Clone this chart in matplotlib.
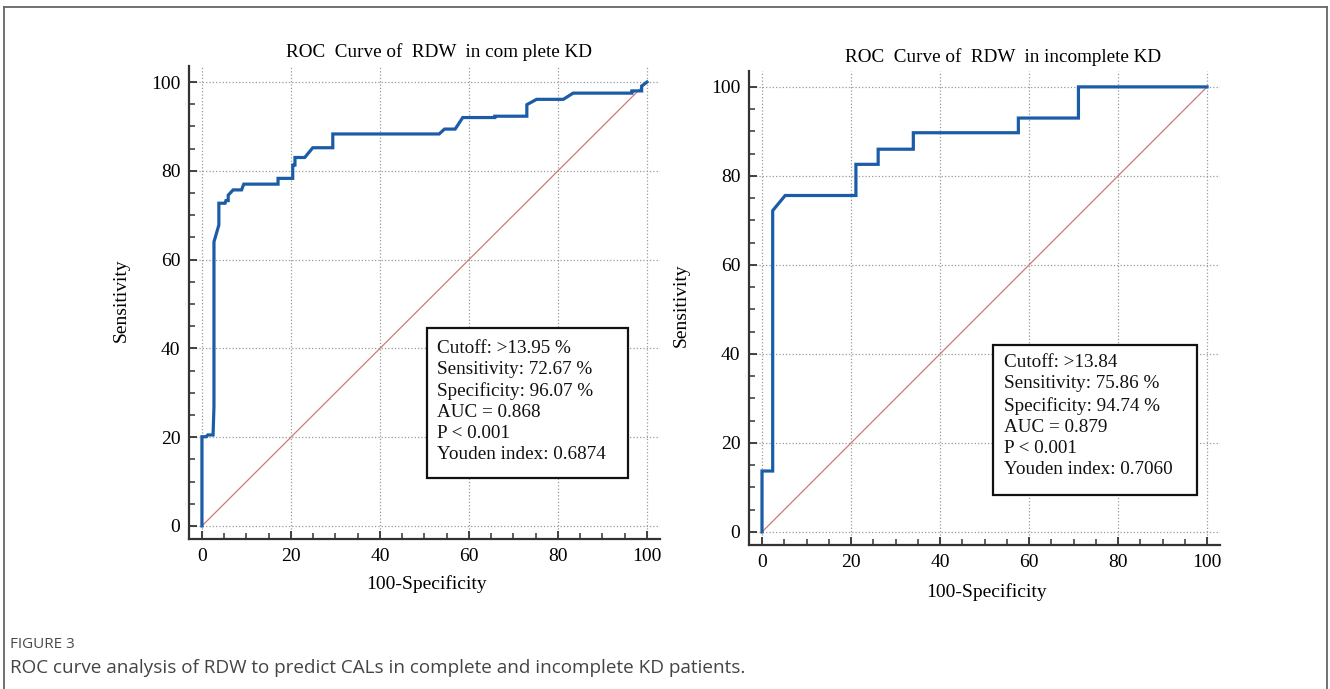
import numpy as np
import matplotlib.pyplot as plt
from matplotlib.patches import Rectangle
from matplotlib.lines import Line2D
from matplotlib.ticker import MultipleLocator

# ROC points (100-Specificity, Sensitivity)
complete_fpr = [0, 0, 1.0, 1.3, 2.5, 2.7, 2.7, 3.8, 3.8, 5.2, 5.4, 5.9, 5.9, 7.0, 8.9, 9.4,
                17.1, 17.1, 20.4, 20.4, 20.9, 20.9, 23.1, 24.9, 29.4, 29.4, 53.3, 54.5,
                56.9, 58.6, 65.8, 65.8, 73.0, 73.0, 75.2, 81.2, 83.4, 96.6, 96.6, 98.8, 98.8, 100]
complete_tpr = [0, 20.1, 20.1, 20.5, 20.5, 26.9, 64.0, 67.8, 72.7, 72.7, 73.3, 73.3, 74.5, 75.7, 75.7, 77.0,
                77.0, 78.3, 78.3, 81.3, 81.3, 83.0, 83.0, 85.2, 85.2, 88.3, 88.3, 89.4,
                89.4, 92.0, 92.0, 92.3, 92.3, 94.9, 96.1, 96.1, 97.5, 97.5, 98.0, 98.0, 99.1, 100]

incomplete_fpr = [0, 0, 2.4, 2.4, 5.2, 21.1, 21.1, 26.1, 26.1, 34.0, 34.0, 57.6, 57.6, 71.1, 71.1, 100]
incomplete_tpr = [0, 13.7, 13.7, 72.2, 75.6, 75.6, 82.6, 82.6, 86.0, 86.0, 89.7, 89.7, 93.0, 93.0, 100, 100]

titles = ['ROC  Curve of  RDW  in com plete KD', 'ROC  Curve of  RDW  in incomplete KD']
stats_complete = ['Cutoff: >13.95 %', 'Sensitivity: 72.67 %', 'Specificity: 96.07 %',
                  'AUC = 0.868', 'P < 0.001', 'Youden index: 0.6874']
stats_incomplete = ['Cutoff: >13.84', 'Sensitivity: 75.86 %', 'Specificity: 94.74 %',
                    'AUC = 0.879', 'P < 0.001', 'Youden index: 0.7060']
ticks = [0, 20, 40, 60, 80, 100]

plt.rcParams['font.family'] = ['Liberation Serif', 'DejaVu Serif']

fig = plt.figure(figsize=(13.3, 6.89), dpi=100)

panels = [
    dict(rect=[0.1418, 0.2173, 0.3547, 0.6862], fpr=complete_fpr, tpr=complete_tpr,
         title=titles[0], stats=stats_complete, box=(50.6, 10.8, 45.1, 33.8), txt=(52.8, 42.0),
         ylab=(-0.124, 0.506), xlab=(0.505, -0.0755), tx=0.53),
    dict(rect=[0.5629, 0.2085, 0.3547, 0.688], fpr=incomplete_fpr, tpr=incomplete_tpr,
         title=titles[1], stats=stats_incomplete, box=(51.9, 8.3, 45.9, 33.7), txt=(54.4, 39.9),
         ylab=(-0.124, 0.507), xlab=(0.505, -0.079), tx=0.54),
]

for p in panels:
    ax = fig.add_axes(p['rect'])
    ax.set_xlim(-3, 103)
    ax.set_ylim(-3, 103.5)
    for s in ['top', 'right']:
        ax.spines[s].set_visible(False)
    for s in ['left', 'bottom']:
        ax.spines[s].set_color('#333333')
        ax.spines[s].set_linewidth(1.6)
    ax.set_xticks(ticks)
    ax.set_yticks(ticks)
    ax.xaxis.set_minor_locator(MultipleLocator(5))
    ax.yaxis.set_minor_locator(MultipleLocator(5))
    ax.tick_params(which='major', direction='in', length=6, width=1.3, color='#333333',
                   labelsize=14, pad=6)
    ax.tick_params(which='minor', direction='in', length=4, width=1.1, color='#333333')
    ax.grid(True, which='major', linestyle=':', color='#9a9a9a', linewidth=0.9)
    ax.set_axisbelow(True)

    ax.plot([0, 100], [0, 100], color='#cc7a76', linewidth=0.9)
    ax.plot(p['fpr'], p['tpr'], color='#1b5ca6', linewidth=2.3, solid_joinstyle='miter')

    bx, by, bw, bh = p['box']
    ax.add_patch(Rectangle((bx, by), bw, bh, fill=True, facecolor='white',
                           edgecolor='#111111', linewidth=1.6, zorder=4))
    ax.text(p['txt'][0], p['txt'][1], '\n'.join(p['stats']), fontsize=13.8,
            va='top', ha='left', linespacing=1.31, zorder=5, color='#111111')

    ax.set_title(p['title'], fontsize=13.8, x=p['tx'], pad=7)
    ax.set_ylabel('Sensitivity', fontsize=14)
    ax.yaxis.set_label_coords(*p['ylab'])
    ax.set_xlabel('100-Specificity', fontsize=14)
    ax.xaxis.set_label_coords(*p['xlab'])

# outer frame of the figure panel
frame_kw = dict(color='#666666', linewidth=1.3, transform=fig.transFigure)
fig.add_artist(Line2D([0.003, 0.003], [0, 0.9898], **frame_kw))
fig.add_artist(Line2D([0.003, 0.9977], [0.9898, 0.9898], **frame_kw))
fig.add_artist(Line2D([0.9977, 0.9977], [0, 0.9898], **frame_kw))

fig.text(0.0075, 1 - 645 / 689, 'FIGURE 3', fontsize=11, family='Open Sans',
         color='#4a4a4a', va='center', ha='left')
fig.text(0.0075, 1 - 668 / 689,
         'ROC curve analysis of RDW to predict CALs in complete and incomplete KD patients.',
         fontsize=13.6, family='Open Sans', color='#444444', va='center', ha='left')

fig.savefig('out.png', dpi=100)
